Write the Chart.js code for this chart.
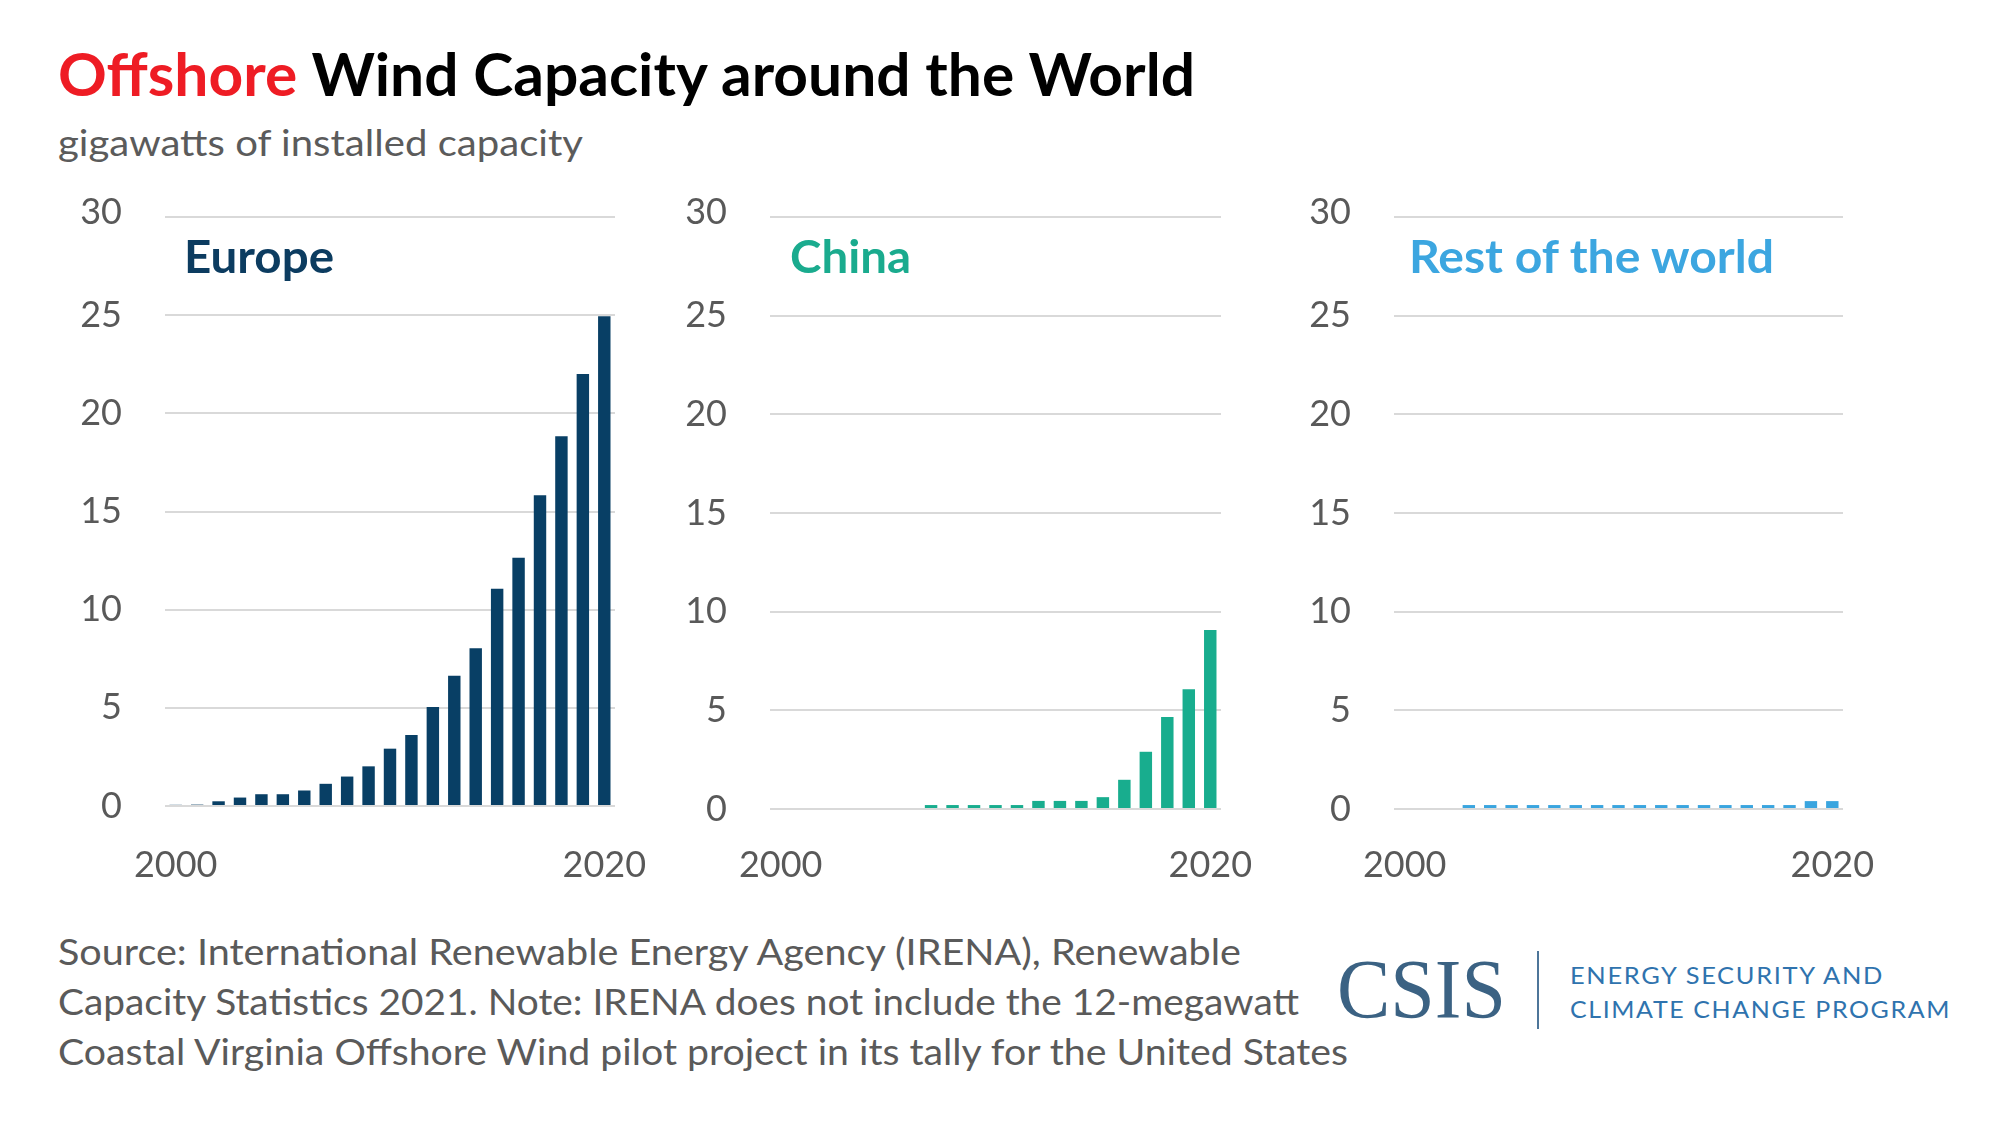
<!DOCTYPE html>
<html><head><meta charset="utf-8">
<script src="https://cdn.jsdelivr.net/npm/chart.js@4.4.0/dist/chart.umd.min.js"></script>
<style>
html,body{margin:0;padding:0;background:#fff;}
body{width:2000px;height:1134px;position:relative;overflow:hidden;font-family:Lato,sans-serif;}
.t{position:absolute;white-space:nowrap;line-height:1;transform-origin:0 0;}
.bl{display:inline-block;width:0;height:0;}
canvas{position:absolute;}
#vline{position:absolute;left:1537px;top:951px;width:2px;height:78px;background:#4d7599;}
</style></head><body>

<div class="t" data-x="58" data-b="96" data-w="1137" style="font-size:60px;font-weight:700;color:#000"><span style="color:#ee1c24">Offshore</span> Wind Capacity around the World<span class="bl"></span></div>
<div class="t" data-x="58" data-b="156" data-w="525" style="font-size:37px;color:#5b5b5b">gigawatts of installed capacity<span class="bl"></span></div>

<canvas id="cEurope" width="610" height="699" style="left:65px;top:187px"></canvas>
<canvas id="cChina" width="611" height="702" style="left:670px;top:187px"></canvas>
<canvas id="cRow" width="609" height="702" style="left:1294px;top:187px"></canvas>

<div class="t" data-x="184" data-b="273" data-w="150" style="font-size:45px;font-weight:700;color:#0c3c60">Europe<span class="bl"></span></div>
<div class="t" data-x="790" data-b="273" data-w="121" style="font-size:45px;font-weight:700;color:#1aab8e">China<span class="bl"></span></div>
<div class="t" data-x="1409" data-b="273" data-w="365" style="font-size:45px;font-weight:700;color:#3ca6e0">Rest of the world<span class="bl"></span></div>

<div class="t" data-x="58" data-b="965" data-w="1183" style="font-size:37px;color:#5a5a5a">Source: International Renewable Energy Agency (IRENA), Renewable<span class="bl"></span></div>
<div class="t" data-x="58" data-b="1015" data-w="1241" style="font-size:37px;color:#5a5a5a">Capacity Statistics 2021. Note: IRENA does not include the 12-megawatt<span class="bl"></span></div>
<div class="t" data-x="58" data-b="1065" data-w="1290" style="font-size:37px;color:#5a5a5a">Coastal Virginia Offshore Wind pilot project in its tally for the United States<span class="bl"></span></div>

<div class="t" data-x="1337" data-b="1018" data-w="169" style="font-size:84px;font-family:'Liberation Serif',serif;color:#3b6283">CSIS<span class="bl"></span></div>
<div id="vline"></div>
<div class="t" data-x="1570" data-b="984" data-w="314" style="font-size:23px;letter-spacing:1.5px;color:#2f73ae">ENERGY SECURITY AND<span class="bl"></span></div>
<div class="t" data-x="1570" data-b="1018" data-w="381" style="font-size:23px;letter-spacing:1.5px;color:#2f73ae">CLIMATE CHANGE PROGRAM<span class="bl"></span></div>

<script>
// ---- data ----
const years = ['2000','2001','2002','2003','2004','2005','2006','2007','2008','2009','2010',
               '2011','2012','2013','2014','2015','2016','2017','2018','2019','2020'];
const europe = [0.06,0.07,0.24,0.43,0.6,0.6,0.79,1.13,1.5,2.02,2.92,
                3.62,5.04,6.63,8.04,11.06,12.65,15.83,18.83,22.0,24.95];
const china = [null,null,null,null,null,null,null,0.2,0.2,0.2,0.2,
               0.2,0.41,0.41,0.41,0.6,1.48,2.9,4.66,6.07,9.07];
const restOfWorld = [null,null,null,0.2,0.2,0.2,0.2,0.2,0.2,0.2,0.2,
                     0.2,0.2,0.2,0.2,0.2,0.2,0.2,0.2,0.4,0.4];
const yTicks = [0,5,10,15,20,25,30];
const xTickLabels = ['2000','2020'];

function place(){
  document.querySelectorAll('.t').forEach(el=>{
    el.style.left = el.dataset.x+'px'; el.style.top='0px'; el.style.transform='none';
    const r = el.getBoundingClientRect();
    const m = el.querySelector('.bl').getBoundingClientRect();
    const off = m.top - r.top;
    el.style.top = (parseFloat(el.dataset.b) - off)+'px';
    if (el.dataset.w) el.style.transform = 'scaleX('+(parseFloat(el.dataset.w)/r.width)+')';
  });
}

function makeChart(id, values, color, xPad){
  const top = yTicks[yTicks.length-1];
  return new Chart(document.getElementById(id), {
    type:'bar',
    data:{labels:years, datasets:[{data:values, backgroundColor:color, borderWidth:0,
          barPercentage:0.58, categoryPercentage:1.0}]},
    options:{
      responsive:false, animation:false,
      layout:{padding:{top:30,right:60,left:0,bottom:0}},
      plugins:{legend:{display:false}, tooltip:{enabled:false}, title:{display:false}},
      scales:{
        x:{
          offset:true,
          grid:{display:false, drawTicks:false},
          border:{display:false},
          ticks:{autoSkip:false, maxRotation:0, minRotation:0, padding:xPad,
                 color:'#595959', font:{family:'Lato', size:36},
                 callback:function(v){const l=this.getLabelForValue(v); return xTickLabels.includes(l)?l:'';}},
          afterFit:s=>{s.height=80; s.paddingLeft=0; s.paddingRight=0;}
        },
        y:{
          min:0, max:top,
          afterBuildTicks:s=>{s.ticks = yTicks.map(v=>({value:v}));},
          grid:{color:'#d9d9d9', lineWidth:2, drawTicks:false},
          border:{display:false},
          ticks:{padding:43, color:'#595959', font:{family:'Lato', size:36, lineHeight:'9px'},
                 callback:v=> v===top ? [String(v),''] : String(v)},
          afterFit:s=>{s.width=100; s.paddingTop=0; s.paddingBottom=0;}
        }
      }
    }
  });
}

document.fonts.ready.then(()=>Promise.all([
  document.fonts.load('36px Lato'), document.fonts.load('bold 45px Lato'),
  document.fonts.load("84px 'Liberation Serif'")
])).catch(()=>{}).then(()=>{
  place();
  makeChart('cEurope', europe, '#083f65', 38);
  makeChart('cChina', china, '#18ad8e', 35);
  makeChart('cRow', restOfWorld, '#3aa5df', 35);
});
</script>
</body></html>
